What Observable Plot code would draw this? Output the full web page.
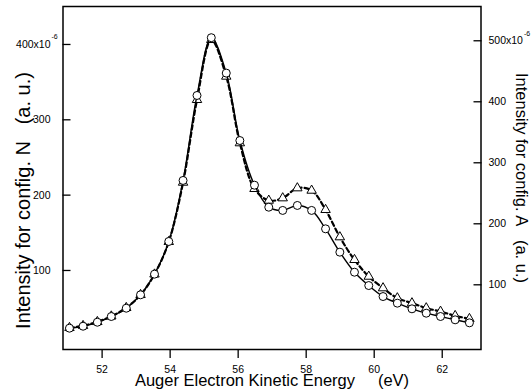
<!DOCTYPE html>
<html><head><meta charset="utf-8">
<script src="https://cdn.jsdelivr.net/npm/d3@7"></script>
<script src="https://cdn.jsdelivr.net/npm/@observablehq/plot@0.6"></script>
<style>body{margin:0;background:#fff}</style>
</head><body><div id="chart"></div>
<script>
// Auger electron kinetic energy (eV)
const energy = [51.04, 51.44, 51.86, 52.27, 52.71, 53.13, 53.54, 53.96, 54.38, 54.79,
  55.21, 55.65, 56.05, 56.48, 56.90, 57.31, 57.74, 58.16, 58.57, 58.99,
  59.42, 59.84, 60.26, 60.68, 61.11, 61.53, 61.95, 62.38, 62.80];
// Intensity for config. N (x10^-6, left axis)
const configN = [23.4, 26.0, 31.3, 38.9, 49.9, 67.7, 95.1, 138.5, 219.5, 332.3,
  409, 362, 272.5, 213.2, 184, 179.7, 186.3, 179.7, 155.3, 124.3,
  97.7, 80, 65.4, 56.6, 49.1, 43.3, 38.9, 34.5, 30.5];
// Intensity for config. A (x10^-6, right axis)
const configA = [29.5, 32.8, 39.3, 48.4, 62.3, 83.6, 117.2, 170.5, 267.7, 403.3,
  501.6, 441.5, 332.3, 257.4, 238.2, 242.1, 258.5, 254.6, 223, 178.2,
  141, 113.6, 94.6, 78.2, 70, 61.8, 56.2, 49.2, 44.3];
const xTicks = [52, 54, 56, 58, 60, 62];
const leftTicks = [100, 200, 300, 400];
const rightTicks = [100, 200, 300, 400, 500];
const exponent = "-6";
const xTitle = "Auger Electron Kinetic Energy\u00a0\u00a0\u00a0\u00a0\u00a0(eV)";
const leftTitle = "Intensity for config. N\u00a0\u00a0\u00a0(a. u.)";
const rightTitle = "Intensity for config. A\u00a0\u00a0\u00a0(a. u.)";

const k = 0.8098; // one right-axis unit expressed in left-axis units
const rowsN = energy.map((e, i) => ({e, v: configN[i]}));
const rowsA = energy.map((e, i) => ({e, v: configA[i] * k}));
const font = "'Liberation Sans', Arial, Helvetica, sans-serif";

const plot = Plot.plot({
  width: 532, height: 392,
  marginLeft: 62.5, marginRight: 51.5, marginTop: 6, marginBottom: 43,
  style: {fontFamily: font, fontSize: "10.5px", color: "black", background: "white", overflow: "visible"},
  x: {domain: [50.85, 63.14]},
  y: {domain: [-4.9, 450.4]},
  marks: [
    Plot.line(rowsA, {x: "e", y: "v", curve: "catmull-rom", stroke: "black", strokeWidth: 2.2, strokeDasharray: "4.5,3"}),
    Plot.dot(rowsA, {x: "e", y: "v", symbol: "triangle", r: 3.5, fill: "white", stroke: "black", strokeWidth: 1}),
    Plot.line(rowsN, {x: "e", y: "v", curve: "catmull-rom", stroke: "black", strokeWidth: 1.4}),
    Plot.dot(rowsN, {x: "e", y: "v", r: 4, fill: "white", stroke: "black", strokeWidth: 1}),
    Plot.frame({stroke: "black", strokeWidth: 1.5}),
    Plot.axisX({ticks: xTicks, tickSize: 9, tickPadding: 7, strokeWidth: 1.3, tickFormat: d => String(d), label: null}),
    Plot.axisY({anchor: "left", ticks: leftTicks, tickSize: -8, tickPadding: 20.5, strokeWidth: 1.3,
      tickFormat: d => d === 400 ? "400x10" : String(d), label: null}),
    Plot.axisY({anchor: "right", ticks: rightTicks.map(t => t * k), tickSize: -8, tickPadding: 15.5, strokeWidth: 1.3,
      tickFormat: d => { const v = Math.round(d / k); return v === 500 ? "500x10" : String(v); }, label: null}),
    Plot.text([xTitle], {frameAnchor: "bottom", textAnchor: "middle", lineAnchor: "middle", dy: 31, fontSize: 16.5, text: d => d}),
    Plot.text([leftTitle], {frameAnchor: "left", textAnchor: "middle", lineAnchor: "middle", dx: -39.6, dy: 22.5, rotate: -90, fontSize: 20, text: d => d}),
    Plot.text([rightTitle], {frameAnchor: "right", textAnchor: "middle", lineAnchor: "middle", dx: 39.8, dy: 0, rotate: 90, fontSize: 16.5, text: d => d})
  ]
});
document.getElementById("chart").append(plot);

// superscript exponent after the top tick labels
const ns = "http://www.w3.org/2000/svg";
plot.querySelectorAll("text").forEach(el => {
  if (el.textContent === "400x10" || el.textContent === "500x10") {
    const bb = el.getBBox();
    const t = document.createElementNS(ns, "text");
    if (el.getAttribute("transform")) t.setAttribute("transform", el.getAttribute("transform"));
    t.setAttribute("x", bb.x + bb.width + 0.8);
    t.setAttribute("y", bb.y + 1.5);
    t.setAttribute("text-anchor", "start");
    t.setAttribute("font-size", "7px");
    t.textContent = exponent;
    el.parentNode.appendChild(t);
  }
});
</script>
</body></html>
